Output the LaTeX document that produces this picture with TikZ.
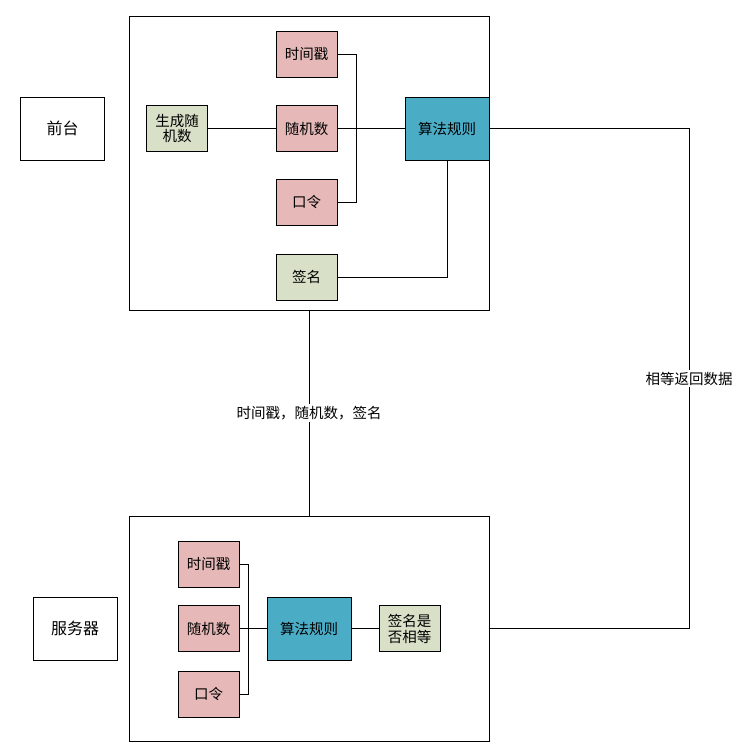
\documentclass[tikz,border=0pt]{standalone}
\usepackage{fontspec}
\setmainfont{Noto Sans CJK SC}
\usetikzlibrary{positioning}

\definecolor{pinkbox}{RGB}{230,185,184}
\definecolor{greenbox}{RGB}{216,224,200}
\definecolor{bluebox}{RGB}{75,172,198}

\begin{document}
\begin{tikzpicture}[
      x=1pt,y=-1pt,
      line width=1pt,
      font=\fontsize{14.5}{16}\selectfont,
      frame/.style={
        draw,
        rectangle,
        inner sep=0pt
      },
      field/.style={
        draw,
        fill=pinkbox,
        minimum width=61pt,
        minimum height=46pt,
        inner sep=0pt,
        align=center
      },
      plain/.style={
        draw,
        fill=greenbox,
        minimum width=61pt,
        minimum height=46pt,
        inner sep=0pt,
        align=center
      },
      algo/.style={
        draw,
        fill=bluebox,
        minimum width=84pt,
        minimum height=63pt,
        inner sep=0pt
      },
      side/.style={
        draw,
        minimum width=84pt,
        minimum height=63pt,
        inner sep=0pt,
        font=\fontsize{16}{18}\selectfont
      },
      wire/.style={
        draw
      },
      tag/.style={
        fill=white,
        inner sep=2pt
      }
    ]
      \useasboundingbox (0,0) rectangle (739,753);

      % outer boxes
      \node[frame,minimum width=360pt,minimum height=294pt] (front) at (309,163) {};
      \node[frame,minimum width=360pt,minimum height=225pt] (server) at (309,628.5) {};

      \node[side] (qt) at (62.5,128.5) {前台};
      \node[side] (fwq) at (75,628.5) {服务器};

      % front side
      \foreach \y/\n/\t in {54/ts1/时间戳,128.5/rn1/随机数,202/pw1/口令}
        \node[field] (\n) at (306.5,\y) {\t};
      \node[plain] (gen) at (177,128.5) {生成随\\机数};
      \node[plain] (sig1) at (306.5,277) {签名};
      \node[algo] (alg1) at (447,128.5) {算法规则};

      \draw[wire] (gen) -- (rn1);
      \draw[wire] (ts1.east) -- ++(19,0) |- (pw1.east);
      \draw[wire] (rn1) -- (alg1);
      \draw[wire] (alg1.south) |- (sig1.east);

      % server side
      \foreach \y/\n/\t in {564/ts2/时间戳,628.5/rn2/随机数,694/pw2/口令}
        \node[field] (\n) at (208.5,\y) {\t};
      \node[algo] (alg2) at (309,628.5) {算法规则};
      \node[plain] (cmp) at (409.5,628.5) {签名是\\否相等};

      \draw[wire] (ts2.east) -- ++(9,0) |- (pw2.east);
      \draw[wire] (rn2) -- (alg2);
      \draw[wire] (alg2) -- (cmp);

      % between the two sides
      \draw[wire] (front.south) -- node[tag] {时间戳，随机数，签名} (server.north);
      \coordinate (turn1) at (689,128.5);
      \coordinate (turn2) at (689,628.5);
      \draw[wire] (alg1.east) -- (turn1) -- node[tag] {相等返回数据} (turn2) -- (server.east);
    \end{tikzpicture}
\end{document}
